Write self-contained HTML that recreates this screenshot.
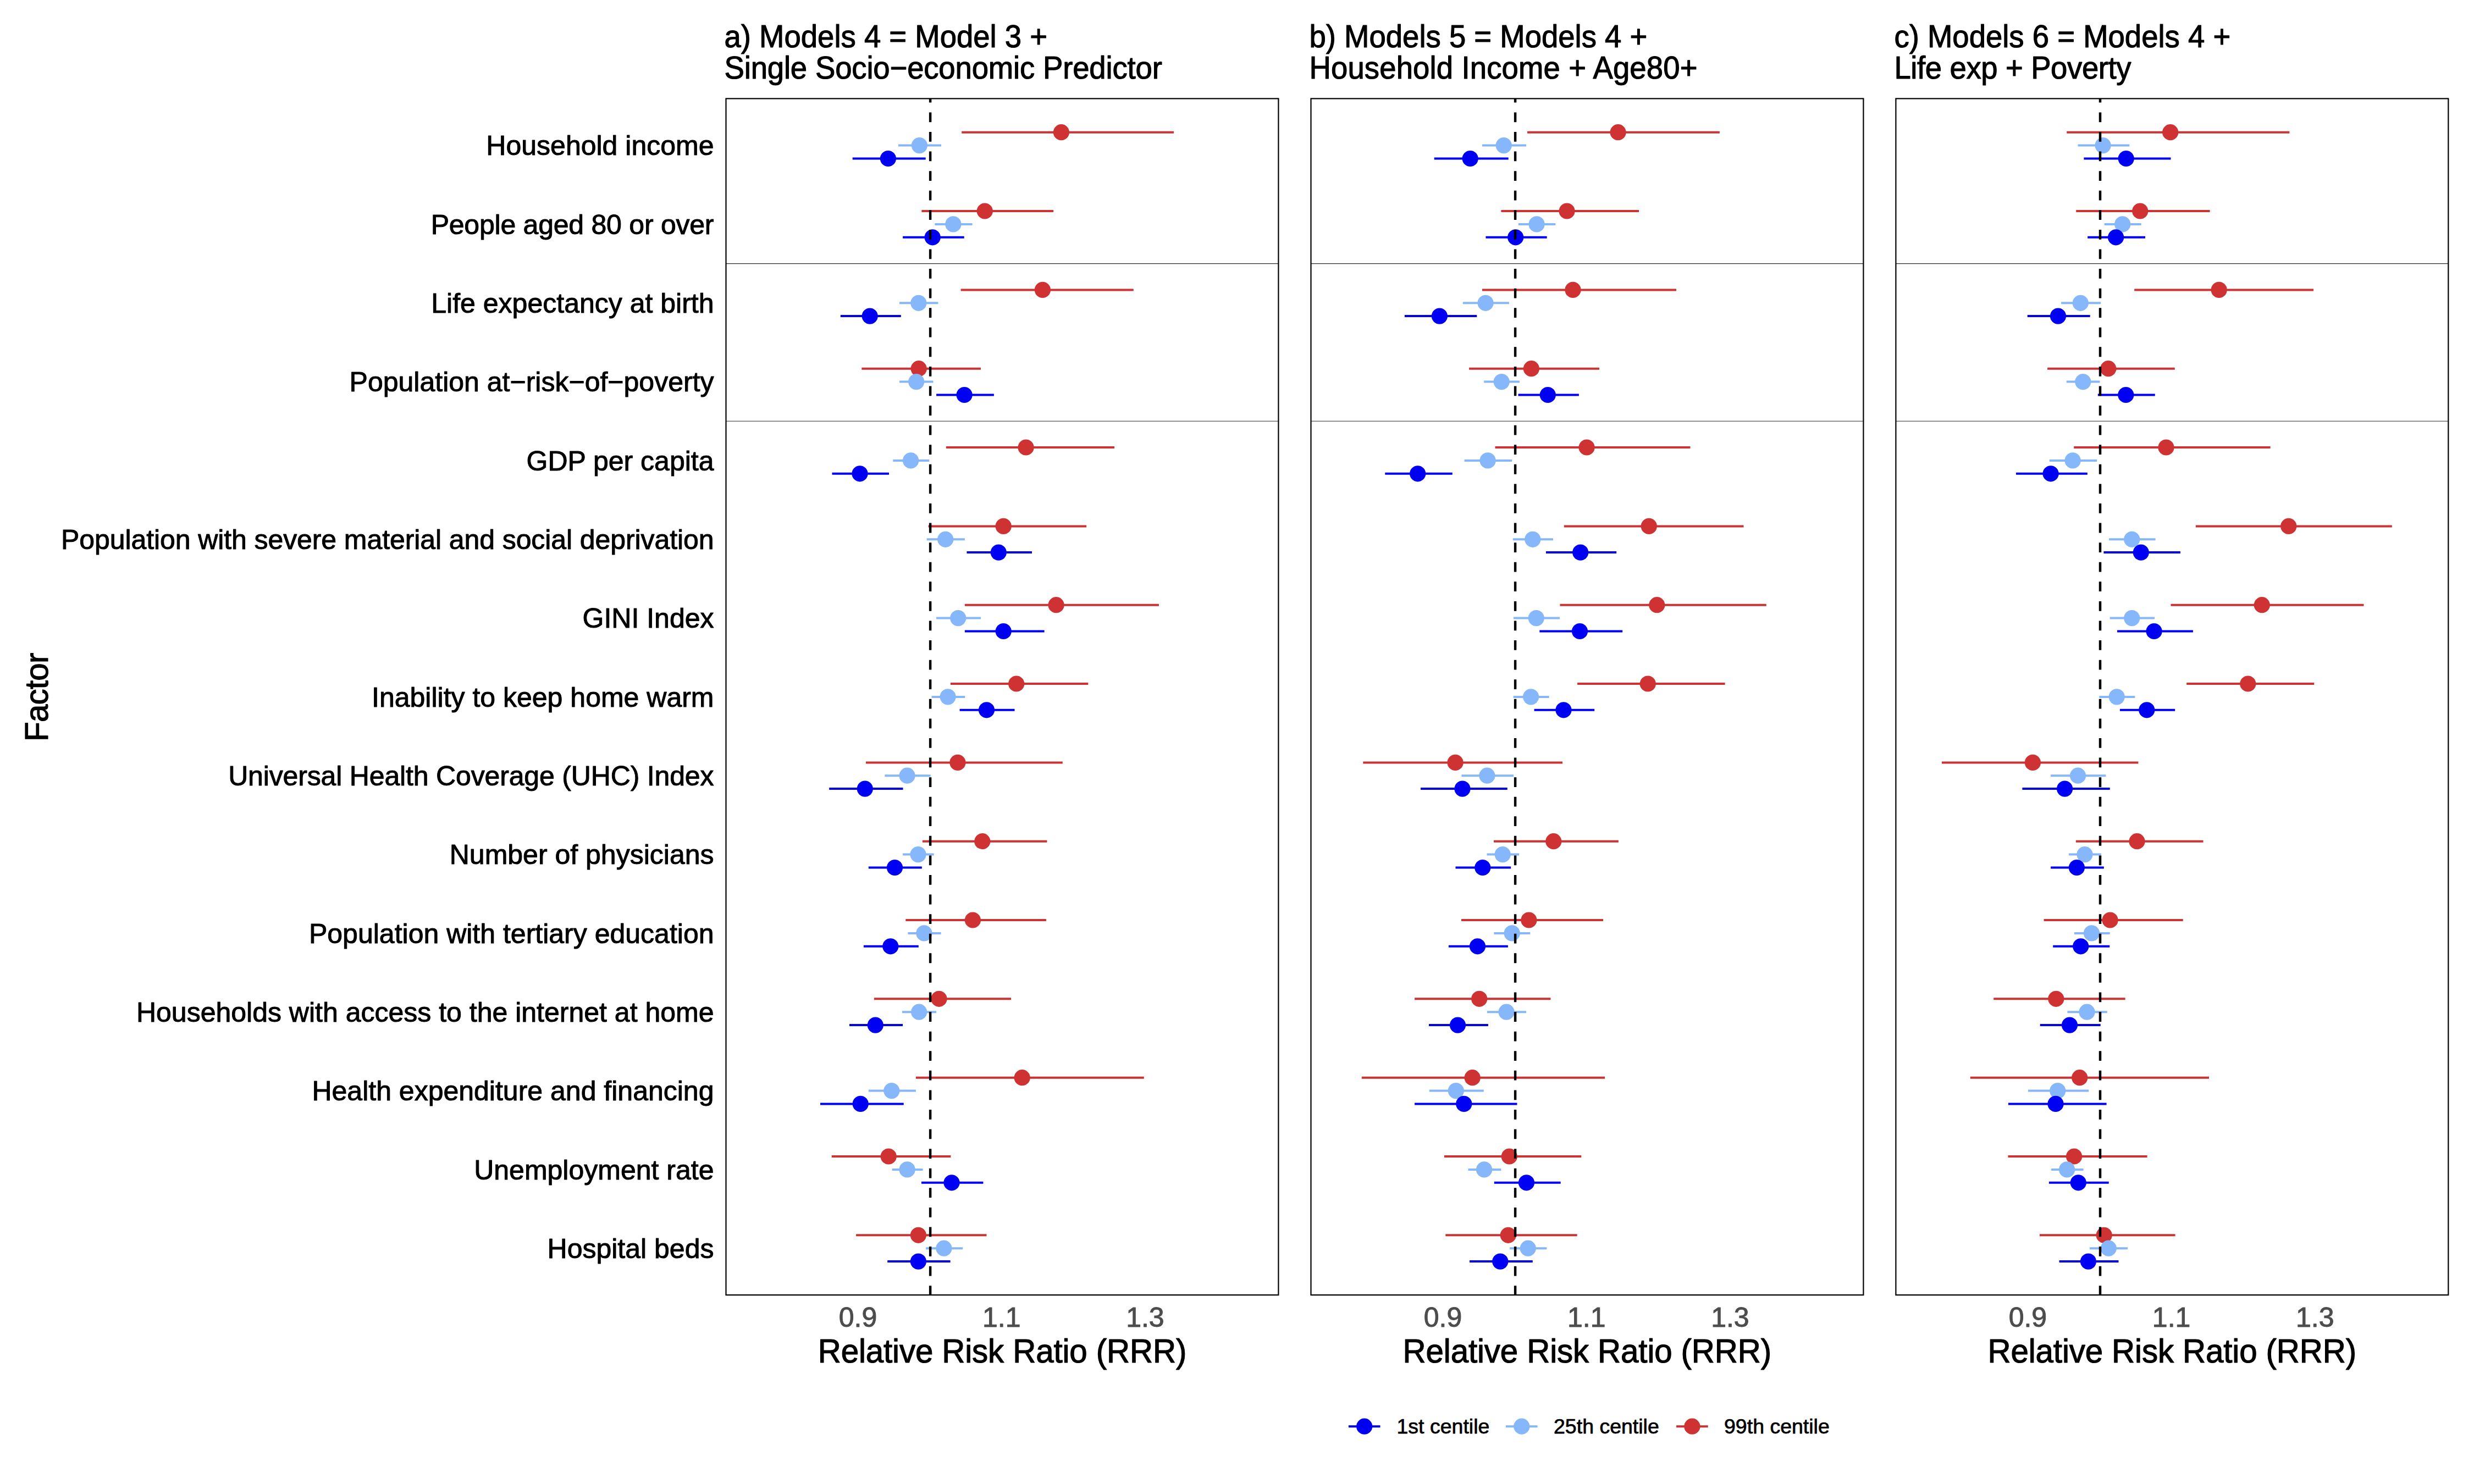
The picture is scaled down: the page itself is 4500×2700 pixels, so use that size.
<!DOCTYPE html>
<html lang="en"><head><meta charset="utf-8"><title>Relative Risk Ratio by factor</title>
<style>html,body{margin:0;padding:0;background:#fff}svg{display:block}text{font-family:"Liberation Sans",sans-serif;stroke-linejoin:round}</style></head><body>
<svg width="4500" height="2700" viewBox="0 0 4500 2700">
<rect width="4500" height="2700" fill="#fff"/>
<text id="factor" transform="translate(87.0,1268.3) rotate(-90) scale(1,1.03)" text-anchor="middle" font-size="58.33" fill="#000" stroke="#000" stroke-width="1.17" textLength="161.31" lengthAdjust="spacing">Factor</text>
<g font-size="50" text-anchor="end" fill="#000" stroke="#000" stroke-width="1.00">
<text id="yl0" transform="translate(1298.5,282.4) scale(1,1.01)">Household income</text>
<text id="yl1" transform="translate(1298.5,425.7) scale(1,1.01)" textLength="514.83" lengthAdjust="spacing">People aged 80 or over</text>
<text id="yl2" transform="translate(1298.5,569.1) scale(1,1.01)">Life expectancy at birth</text>
<text id="yl3" transform="translate(1298.5,712.4) scale(1,1.01)">Population at−risk−of−poverty</text>
<text id="yl4" transform="translate(1298.5,855.7) scale(1,1.01)">GDP per capita</text>
<text id="yl5" transform="translate(1298.5,999.1) scale(1,1.01)" textLength="1187.54" lengthAdjust="spacing">Population with severe material and social deprivation</text>
<text id="yl6" transform="translate(1298.5,1142.4) scale(1,1.01)">GINI Index</text>
<text id="yl7" transform="translate(1298.5,1285.7) scale(1,1.01)">Inability to keep home warm</text>
<text id="yl8" transform="translate(1298.5,1429.0) scale(1,1.01)" textLength="883.33" lengthAdjust="spacing">Universal Health Coverage (UHC) Index</text>
<text id="yl9" transform="translate(1298.5,1572.4) scale(1,1.01)">Number of physicians</text>
<text id="yl10" transform="translate(1298.5,1715.7) scale(1,1.01)">Population with tertiary education</text>
<text id="yl11" transform="translate(1298.5,1859.0) scale(1,1.01)">Households with access to the internet at home</text>
<text id="yl12" transform="translate(1298.5,2002.4) scale(1,1.01)">Health expenditure and financing</text>
<text id="yl13" transform="translate(1298.5,2145.7) scale(1,1.01)">Unemployment rate</text>
<text id="yl14" transform="translate(1298.5,2289.0) scale(1,1.01)">Hospital beds</text>
</g>
<g>
<g font-size="54.5" fill="#000" stroke="#000" stroke-width="1.09">
<text id="t0a" transform="translate(1317.5,85.5) scale(1,1.04)">a) Models 4 = Model 3 +</text>
<text id="t0b" transform="translate(1317.5,143.0) scale(1,1.04)" textLength="796.28" lengthAdjust="spacing">Single Socio−economic Predictor</text>
</g>
<line x1="1320.5" x2="2325.4" y1="479.60" y2="479.60" stroke="#2b2b2b" stroke-width="1.1"/>
<line x1="1320.5" x2="2325.4" y1="766.26" y2="766.26" stroke="#2b2b2b" stroke-width="1.1"/>
<line x1="1749.2" x2="2135.0" y1="240.7" y2="240.7" stroke="#CE3232" stroke-width="4.0"/>
<line x1="1634.0" x2="1712.0" y1="264.6" y2="264.6" stroke="#85B7FA" stroke-width="4.0"/>
<line x1="1550.7" x2="1683.7" y1="288.5" y2="288.5" stroke="#0000F3" stroke-width="4.0"/>
<line x1="1676.4" x2="1916.2" y1="384.0" y2="384.0" stroke="#CE3232" stroke-width="4.0"/>
<line x1="1700.3" x2="1768.6" y1="407.9" y2="407.9" stroke="#85B7FA" stroke-width="4.0"/>
<line x1="1642.1" x2="1753.7" y1="431.8" y2="431.8" stroke="#0000F3" stroke-width="4.0"/>
<line x1="1747.6" x2="2061.8" y1="527.4" y2="527.4" stroke="#CE3232" stroke-width="4.0"/>
<line x1="1636.0" x2="1706.4" y1="551.3" y2="551.3" stroke="#85B7FA" stroke-width="4.0"/>
<line x1="1528.8" x2="1638.8" y1="575.1" y2="575.1" stroke="#0000F3" stroke-width="4.0"/>
<line x1="1567.3" x2="1784.0" y1="670.7" y2="670.7" stroke="#CE3232" stroke-width="4.0"/>
<line x1="1636.0" x2="1697.5" y1="694.6" y2="694.6" stroke="#85B7FA" stroke-width="4.0"/>
<line x1="1703.1" x2="1807.9" y1="718.5" y2="718.5" stroke="#0000F3" stroke-width="4.0"/>
<line x1="1720.9" x2="2027.0" y1="814.0" y2="814.0" stroke="#CE3232" stroke-width="4.0"/>
<line x1="1624.3" x2="1690.2" y1="837.9" y2="837.9" stroke="#85B7FA" stroke-width="4.0"/>
<line x1="1513.5" x2="1617.0" y1="861.8" y2="861.8" stroke="#0000F3" stroke-width="4.0"/>
<line x1="1688.6" x2="1976.1" y1="957.4" y2="957.4" stroke="#CE3232" stroke-width="4.0"/>
<line x1="1685.7" x2="1754.9" y1="981.3" y2="981.3" stroke="#85B7FA" stroke-width="4.0"/>
<line x1="1758.5" x2="1877.0" y1="1005.1" y2="1005.1" stroke="#0000F3" stroke-width="4.0"/>
<line x1="1754.9" x2="2107.9" y1="1100.7" y2="1100.7" stroke="#CE3232" stroke-width="4.0"/>
<line x1="1703.1" x2="1784.0" y1="1124.6" y2="1124.6" stroke="#85B7FA" stroke-width="4.0"/>
<line x1="1754.9" x2="1899.6" y1="1148.5" y2="1148.5" stroke="#0000F3" stroke-width="4.0"/>
<line x1="1729.0" x2="1979.3" y1="1244.0" y2="1244.0" stroke="#CE3232" stroke-width="4.0"/>
<line x1="1694.6" x2="1755.3" y1="1267.9" y2="1267.9" stroke="#85B7FA" stroke-width="4.0"/>
<line x1="1745.6" x2="1845.5" y1="1291.8" y2="1291.8" stroke="#0000F3" stroke-width="4.0"/>
<line x1="1574.9" x2="1932.8" y1="1387.4" y2="1387.4" stroke="#CE3232" stroke-width="4.0"/>
<line x1="1609.3" x2="1692.6" y1="1411.2" y2="1411.2" stroke="#85B7FA" stroke-width="4.0"/>
<line x1="1508.2" x2="1642.5" y1="1435.1" y2="1435.1" stroke="#0000F3" stroke-width="4.0"/>
<line x1="1678.0" x2="1904.5" y1="1530.7" y2="1530.7" stroke="#CE3232" stroke-width="4.0"/>
<line x1="1642.1" x2="1698.7" y1="1554.6" y2="1554.6" stroke="#85B7FA" stroke-width="4.0"/>
<line x1="1579.8" x2="1676.8" y1="1578.5" y2="1578.5" stroke="#0000F3" stroke-width="4.0"/>
<line x1="1647.3" x2="1902.9" y1="1674.0" y2="1674.0" stroke="#CE3232" stroke-width="4.0"/>
<line x1="1651.4" x2="1711.6" y1="1697.9" y2="1697.9" stroke="#85B7FA" stroke-width="4.0"/>
<line x1="1570.9" x2="1670.8" y1="1721.8" y2="1721.8" stroke="#0000F3" stroke-width="4.0"/>
<line x1="1589.9" x2="1839.0" y1="1817.3" y2="1817.3" stroke="#CE3232" stroke-width="4.0"/>
<line x1="1640.9" x2="1703.1" y1="1841.2" y2="1841.2" stroke="#85B7FA" stroke-width="4.0"/>
<line x1="1545.0" x2="1642.1" y1="1865.1" y2="1865.1" stroke="#0000F3" stroke-width="4.0"/>
<line x1="1665.9" x2="2080.8" y1="1960.7" y2="1960.7" stroke="#CE3232" stroke-width="4.0"/>
<line x1="1579.8" x2="1665.9" y1="1984.6" y2="1984.6" stroke="#85B7FA" stroke-width="4.0"/>
<line x1="1492.0" x2="1643.7" y1="2008.4" y2="2008.4" stroke="#0000F3" stroke-width="4.0"/>
<line x1="1512.7" x2="1729.4" y1="2104.0" y2="2104.0" stroke="#CE3232" stroke-width="4.0"/>
<line x1="1622.7" x2="1678.5" y1="2127.9" y2="2127.9" stroke="#85B7FA" stroke-width="4.0"/>
<line x1="1676.0" x2="1788.4" y1="2151.8" y2="2151.8" stroke="#0000F3" stroke-width="4.0"/>
<line x1="1557.1" x2="1794.5" y1="2247.3" y2="2247.3" stroke="#CE3232" stroke-width="4.0"/>
<line x1="1684.1" x2="1751.2" y1="2271.2" y2="2271.2" stroke="#85B7FA" stroke-width="4.0"/>
<line x1="1614.2" x2="1728.6" y1="2295.1" y2="2295.1" stroke="#0000F3" stroke-width="4.0"/>
<circle cx="1930.4" cy="240.7" r="14.6" fill="#CE3232"/>
<circle cx="1672.4" cy="264.6" r="14.6" fill="#85B7FA"/>
<circle cx="1615.4" cy="288.5" r="14.6" fill="#0000F3"/>
<circle cx="1791.3" cy="384.0" r="14.6" fill="#CE3232"/>
<circle cx="1733.9" cy="407.9" r="14.6" fill="#85B7FA"/>
<circle cx="1696.2" cy="431.8" r="14.6" fill="#0000F3"/>
<circle cx="1896.4" cy="527.4" r="14.6" fill="#CE3232"/>
<circle cx="1670.8" cy="551.3" r="14.6" fill="#85B7FA"/>
<circle cx="1582.2" cy="575.1" r="14.6" fill="#0000F3"/>
<circle cx="1671.2" cy="670.7" r="14.6" fill="#CE3232"/>
<circle cx="1666.7" cy="694.6" r="14.6" fill="#85B7FA"/>
<circle cx="1754.1" cy="718.5" r="14.6" fill="#0000F3"/>
<circle cx="1866.1" cy="814.0" r="14.6" fill="#CE3232"/>
<circle cx="1656.6" cy="837.9" r="14.6" fill="#85B7FA"/>
<circle cx="1564.0" cy="861.8" r="14.6" fill="#0000F3"/>
<circle cx="1825.2" cy="957.4" r="14.6" fill="#CE3232"/>
<circle cx="1719.7" cy="981.3" r="14.6" fill="#85B7FA"/>
<circle cx="1816.3" cy="1005.1" r="14.6" fill="#0000F3"/>
<circle cx="1921.1" cy="1100.7" r="14.6" fill="#CE3232"/>
<circle cx="1742.7" cy="1124.6" r="14.6" fill="#85B7FA"/>
<circle cx="1825.2" cy="1148.5" r="14.6" fill="#0000F3"/>
<circle cx="1848.7" cy="1244.0" r="14.6" fill="#CE3232"/>
<circle cx="1724.1" cy="1267.9" r="14.6" fill="#85B7FA"/>
<circle cx="1794.5" cy="1291.8" r="14.6" fill="#0000F3"/>
<circle cx="1741.9" cy="1387.4" r="14.6" fill="#CE3232"/>
<circle cx="1650.1" cy="1411.2" r="14.6" fill="#85B7FA"/>
<circle cx="1573.3" cy="1435.1" r="14.6" fill="#0000F3"/>
<circle cx="1786.8" cy="1530.7" r="14.6" fill="#CE3232"/>
<circle cx="1670.0" cy="1554.6" r="14.6" fill="#85B7FA"/>
<circle cx="1627.5" cy="1578.5" r="14.6" fill="#0000F3"/>
<circle cx="1769.4" cy="1674.0" r="14.6" fill="#CE3232"/>
<circle cx="1680.9" cy="1697.9" r="14.6" fill="#85B7FA"/>
<circle cx="1619.8" cy="1721.8" r="14.6" fill="#0000F3"/>
<circle cx="1708.0" cy="1817.3" r="14.6" fill="#CE3232"/>
<circle cx="1671.6" cy="1841.2" r="14.6" fill="#85B7FA"/>
<circle cx="1592.3" cy="1865.1" r="14.6" fill="#0000F3"/>
<circle cx="1859.2" cy="1960.7" r="14.6" fill="#CE3232"/>
<circle cx="1621.8" cy="1984.6" r="14.6" fill="#85B7FA"/>
<circle cx="1565.2" cy="2008.4" r="14.6" fill="#0000F3"/>
<circle cx="1616.2" cy="2104.0" r="14.6" fill="#CE3232"/>
<circle cx="1650.1" cy="2127.9" r="14.6" fill="#85B7FA"/>
<circle cx="1731.0" cy="2151.8" r="14.6" fill="#0000F3"/>
<circle cx="1670.4" cy="2247.3" r="14.6" fill="#CE3232"/>
<circle cx="1716.9" cy="2271.2" r="14.6" fill="#85B7FA"/>
<circle cx="1670.4" cy="2295.1" r="14.6" fill="#0000F3"/>
<line x1="1692.1" x2="1692.1" y1="2357.0" y2="179.4" stroke="#000" stroke-width="4.45" stroke-dasharray="17.79 17.79"/>
<rect x="1320.5" y="179.4" width="1004.9" height="2176.7" fill="none" stroke="#000" stroke-width="2.2"/>
<g font-size="50" text-anchor="middle" fill="#4D4D4D" stroke="#4D4D4D" stroke-width="1.00">
<text transform="translate(1560.5,2413.6) scale(1,1.0)">0.9</text>
<text transform="translate(1821.7,2413.6) scale(1,1.0)">1.1</text>
<text transform="translate(2082.9,2413.6) scale(1,1.0)">1.3</text>
</g>
<text id="xt0" transform="translate(1823.0,2478.8) scale(1,1.045)" font-size="58.33" text-anchor="middle" fill="#000" stroke="#000" stroke-width="1.17" textLength="670.64" lengthAdjust="spacing">Relative Risk Ratio (RRR)</text>
</g>
<g>
<g font-size="54.5" fill="#000" stroke="#000" stroke-width="1.09">
<text id="t1a" transform="translate(2381.5,85.5) scale(1,1.04)">b) Models 5 = Models 4 +</text>
<text id="t1b" transform="translate(2381.5,143.0) scale(1,1.04)" textLength="705.97" lengthAdjust="spacing">Household Income + Age80+</text>
</g>
<line x1="2384.5" x2="3389.4" y1="479.60" y2="479.60" stroke="#2b2b2b" stroke-width="1.1"/>
<line x1="2384.5" x2="3389.4" y1="766.26" y2="766.26" stroke="#2b2b2b" stroke-width="1.1"/>
<line x1="2778.1" x2="3127.9" y1="240.7" y2="240.7" stroke="#CE3232" stroke-width="4.0"/>
<line x1="2696.0" x2="2776.1" y1="264.6" y2="264.6" stroke="#85B7FA" stroke-width="4.0"/>
<line x1="2608.7" x2="2743.7" y1="288.5" y2="288.5" stroke="#0000F3" stroke-width="4.0"/>
<line x1="2730.4" x2="2981.1" y1="384.0" y2="384.0" stroke="#CE3232" stroke-width="4.0"/>
<line x1="2761.9" x2="2829.4" y1="407.9" y2="407.9" stroke="#85B7FA" stroke-width="4.0"/>
<line x1="2702.5" x2="2813.7" y1="431.8" y2="431.8" stroke="#0000F3" stroke-width="4.0"/>
<line x1="2696.0" x2="3049.0" y1="527.4" y2="527.4" stroke="#CE3232" stroke-width="4.0"/>
<line x1="2660.8" x2="2744.9" y1="551.3" y2="551.3" stroke="#85B7FA" stroke-width="4.0"/>
<line x1="2554.9" x2="2686.3" y1="575.1" y2="575.1" stroke="#0000F3" stroke-width="4.0"/>
<line x1="2672.1" x2="2909.1" y1="670.7" y2="670.7" stroke="#CE3232" stroke-width="4.0"/>
<line x1="2699.2" x2="2763.9" y1="694.6" y2="694.6" stroke="#85B7FA" stroke-width="4.0"/>
<line x1="2761.5" x2="2871.9" y1="718.5" y2="718.5" stroke="#0000F3" stroke-width="4.0"/>
<line x1="2719.5" x2="3074.5" y1="814.0" y2="814.0" stroke="#CE3232" stroke-width="4.0"/>
<line x1="2663.6" x2="2750.2" y1="837.9" y2="837.9" stroke="#85B7FA" stroke-width="4.0"/>
<line x1="2519.3" x2="2641.8" y1="861.8" y2="861.8" stroke="#0000F3" stroke-width="4.0"/>
<line x1="2844.8" x2="3171.5" y1="957.4" y2="957.4" stroke="#CE3232" stroke-width="4.0"/>
<line x1="2751.8" x2="2825.0" y1="981.3" y2="981.3" stroke="#85B7FA" stroke-width="4.0"/>
<line x1="2812.0" x2="2940.2" y1="1005.1" y2="1005.1" stroke="#0000F3" stroke-width="4.0"/>
<line x1="2837.5" x2="3212.8" y1="1100.7" y2="1100.7" stroke="#CE3232" stroke-width="4.0"/>
<line x1="2753.0" x2="2837.1" y1="1124.6" y2="1124.6" stroke="#85B7FA" stroke-width="4.0"/>
<line x1="2800.3" x2="2951.2" y1="1148.5" y2="1148.5" stroke="#0000F3" stroke-width="4.0"/>
<line x1="2869.1" x2="3137.6" y1="1244.0" y2="1244.0" stroke="#CE3232" stroke-width="4.0"/>
<line x1="2752.6" x2="2817.7" y1="1267.9" y2="1267.9" stroke="#85B7FA" stroke-width="4.0"/>
<line x1="2790.6" x2="2900.2" y1="1291.8" y2="1291.8" stroke="#0000F3" stroke-width="4.0"/>
<line x1="2479.3" x2="2842.0" y1="1387.4" y2="1387.4" stroke="#CE3232" stroke-width="4.0"/>
<line x1="2658.4" x2="2753.0" y1="1411.2" y2="1411.2" stroke="#85B7FA" stroke-width="4.0"/>
<line x1="2584.0" x2="2741.7" y1="1435.1" y2="1435.1" stroke="#0000F3" stroke-width="4.0"/>
<line x1="2717.0" x2="2943.9" y1="1530.7" y2="1530.7" stroke="#CE3232" stroke-width="4.0"/>
<line x1="2704.5" x2="2763.1" y1="1554.6" y2="1554.6" stroke="#85B7FA" stroke-width="4.0"/>
<line x1="2647.5" x2="2748.2" y1="1578.5" y2="1578.5" stroke="#0000F3" stroke-width="4.0"/>
<line x1="2658.0" x2="2916.0" y1="1674.0" y2="1674.0" stroke="#CE3232" stroke-width="4.0"/>
<line x1="2717.4" x2="2783.3" y1="1697.9" y2="1697.9" stroke="#85B7FA" stroke-width="4.0"/>
<line x1="2634.9" x2="2742.9" y1="1721.8" y2="1721.8" stroke="#0000F3" stroke-width="4.0"/>
<line x1="2573.1" x2="2820.5" y1="1817.3" y2="1817.3" stroke="#CE3232" stroke-width="4.0"/>
<line x1="2704.9" x2="2776.1" y1="1841.2" y2="1841.2" stroke="#85B7FA" stroke-width="4.0"/>
<line x1="2599.0" x2="2706.9" y1="1865.1" y2="1865.1" stroke="#0000F3" stroke-width="4.0"/>
<line x1="2476.8" x2="2919.2" y1="1960.7" y2="1960.7" stroke="#CE3232" stroke-width="4.0"/>
<line x1="2599.8" x2="2698.8" y1="1984.6" y2="1984.6" stroke="#85B7FA" stroke-width="4.0"/>
<line x1="2573.1" x2="2759.5" y1="2008.4" y2="2008.4" stroke="#0000F3" stroke-width="4.0"/>
<line x1="2626.9" x2="2876.3" y1="2104.0" y2="2104.0" stroke="#CE3232" stroke-width="4.0"/>
<line x1="2670.5" x2="2730.4" y1="2127.9" y2="2127.9" stroke="#85B7FA" stroke-width="4.0"/>
<line x1="2717.8" x2="2838.7" y1="2151.8" y2="2151.8" stroke="#0000F3" stroke-width="4.0"/>
<line x1="2629.3" x2="2868.7" y1="2247.3" y2="2247.3" stroke="#CE3232" stroke-width="4.0"/>
<line x1="2746.1" x2="2813.3" y1="2271.2" y2="2271.2" stroke="#85B7FA" stroke-width="4.0"/>
<line x1="2673.0" x2="2787.8" y1="2295.1" y2="2295.1" stroke="#0000F3" stroke-width="4.0"/>
<circle cx="2943.1" cy="240.7" r="14.6" fill="#CE3232"/>
<circle cx="2735.2" cy="264.6" r="14.6" fill="#85B7FA"/>
<circle cx="2674.2" cy="288.5" r="14.6" fill="#0000F3"/>
<circle cx="2850.1" cy="384.0" r="14.6" fill="#CE3232"/>
<circle cx="2795.1" cy="407.9" r="14.6" fill="#85B7FA"/>
<circle cx="2756.7" cy="431.8" r="14.6" fill="#0000F3"/>
<circle cx="2861.0" cy="527.4" r="14.6" fill="#CE3232"/>
<circle cx="2702.1" cy="551.3" r="14.6" fill="#85B7FA"/>
<circle cx="2618.4" cy="575.1" r="14.6" fill="#0000F3"/>
<circle cx="2785.4" cy="670.7" r="14.6" fill="#CE3232"/>
<circle cx="2731.2" cy="694.6" r="14.6" fill="#85B7FA"/>
<circle cx="2815.3" cy="718.5" r="14.6" fill="#0000F3"/>
<circle cx="2886.1" cy="814.0" r="14.6" fill="#CE3232"/>
<circle cx="2706.1" cy="837.9" r="14.6" fill="#85B7FA"/>
<circle cx="2578.7" cy="861.8" r="14.6" fill="#0000F3"/>
<circle cx="2999.3" cy="957.4" r="14.6" fill="#CE3232"/>
<circle cx="2787.8" cy="981.3" r="14.6" fill="#85B7FA"/>
<circle cx="2874.7" cy="1005.1" r="14.6" fill="#0000F3"/>
<circle cx="3013.8" cy="1100.7" r="14.6" fill="#CE3232"/>
<circle cx="2794.3" cy="1124.6" r="14.6" fill="#85B7FA"/>
<circle cx="2873.5" cy="1148.5" r="14.6" fill="#0000F3"/>
<circle cx="2997.3" cy="1244.0" r="14.6" fill="#CE3232"/>
<circle cx="2784.6" cy="1267.9" r="14.6" fill="#85B7FA"/>
<circle cx="2844.0" cy="1291.8" r="14.6" fill="#0000F3"/>
<circle cx="2647.1" cy="1387.4" r="14.6" fill="#CE3232"/>
<circle cx="2704.9" cy="1411.2" r="14.6" fill="#85B7FA"/>
<circle cx="2660.0" cy="1435.1" r="14.6" fill="#0000F3"/>
<circle cx="2825.8" cy="1530.7" r="14.6" fill="#CE3232"/>
<circle cx="2733.2" cy="1554.6" r="14.6" fill="#85B7FA"/>
<circle cx="2696.8" cy="1578.5" r="14.6" fill="#0000F3"/>
<circle cx="2780.9" cy="1674.0" r="14.6" fill="#CE3232"/>
<circle cx="2750.2" cy="1697.9" r="14.6" fill="#85B7FA"/>
<circle cx="2687.5" cy="1721.8" r="14.6" fill="#0000F3"/>
<circle cx="2690.7" cy="1817.3" r="14.6" fill="#CE3232"/>
<circle cx="2740.1" cy="1841.2" r="14.6" fill="#85B7FA"/>
<circle cx="2651.5" cy="1865.1" r="14.6" fill="#0000F3"/>
<circle cx="2678.2" cy="1960.7" r="14.6" fill="#CE3232"/>
<circle cx="2648.3" cy="1984.6" r="14.6" fill="#85B7FA"/>
<circle cx="2662.8" cy="2008.4" r="14.6" fill="#0000F3"/>
<circle cx="2745.3" cy="2104.0" r="14.6" fill="#CE3232"/>
<circle cx="2699.6" cy="2127.9" r="14.6" fill="#85B7FA"/>
<circle cx="2776.5" cy="2151.8" r="14.6" fill="#0000F3"/>
<circle cx="2743.3" cy="2247.3" r="14.6" fill="#CE3232"/>
<circle cx="2779.3" cy="2271.2" r="14.6" fill="#85B7FA"/>
<circle cx="2728.8" cy="2295.1" r="14.6" fill="#0000F3"/>
<line x1="2756.1" x2="2756.1" y1="2357.0" y2="179.4" stroke="#000" stroke-width="4.45" stroke-dasharray="17.79 17.79"/>
<rect x="2384.5" y="179.4" width="1004.9" height="2176.7" fill="none" stroke="#000" stroke-width="2.2"/>
<g font-size="50" text-anchor="middle" fill="#4D4D4D" stroke="#4D4D4D" stroke-width="1.00">
<text transform="translate(2624.5,2413.6) scale(1,1.0)">0.9</text>
<text transform="translate(2885.7,2413.6) scale(1,1.0)">1.1</text>
<text transform="translate(3146.9,2413.6) scale(1,1.0)">1.3</text>
</g>
<text id="xt1" transform="translate(2886.9,2478.8) scale(1,1.045)" font-size="58.33" text-anchor="middle" fill="#000" stroke="#000" stroke-width="1.17" textLength="670.64" lengthAdjust="spacing">Relative Risk Ratio (RRR)</text>
</g>
<g>
<g font-size="54.5" fill="#000" stroke="#000" stroke-width="1.09">
<text id="t2a" transform="translate(3445.4,85.5) scale(1,1.04)">c) Models 6 = Models 4 +</text>
<text id="t2b" transform="translate(3445.4,143.0) scale(1,1.04)" textLength="431.17" lengthAdjust="spacing">Life exp + Poverty</text>
</g>
<line x1="3448.4" x2="4453.3" y1="479.60" y2="479.60" stroke="#2b2b2b" stroke-width="1.1"/>
<line x1="3448.4" x2="4453.3" y1="766.26" y2="766.26" stroke="#2b2b2b" stroke-width="1.1"/>
<line x1="3759.2" x2="4164.4" y1="240.7" y2="240.7" stroke="#CE3232" stroke-width="4.0"/>
<line x1="3779.5" x2="3873.3" y1="264.6" y2="264.6" stroke="#85B7FA" stroke-width="4.0"/>
<line x1="3790.4" x2="3948.5" y1="288.5" y2="288.5" stroke="#0000F3" stroke-width="4.0"/>
<line x1="3776.2" x2="4019.6" y1="384.0" y2="384.0" stroke="#CE3232" stroke-width="4.0"/>
<line x1="3827.6" x2="3894.7" y1="407.9" y2="407.9" stroke="#85B7FA" stroke-width="4.0"/>
<line x1="3797.2" x2="3902.0" y1="431.8" y2="431.8" stroke="#0000F3" stroke-width="4.0"/>
<line x1="3882.2" x2="4208.1" y1="527.4" y2="527.4" stroke="#CE3232" stroke-width="4.0"/>
<line x1="3749.1" x2="3821.1" y1="551.3" y2="551.3" stroke="#85B7FA" stroke-width="4.0"/>
<line x1="3687.7" x2="3801.7" y1="575.1" y2="575.1" stroke="#0000F3" stroke-width="4.0"/>
<line x1="3724.1" x2="3955.8" y1="670.7" y2="670.7" stroke="#CE3232" stroke-width="4.0"/>
<line x1="3758.8" x2="3819.5" y1="694.6" y2="694.6" stroke="#85B7FA" stroke-width="4.0"/>
<line x1="3815.8" x2="3919.8" y1="718.5" y2="718.5" stroke="#0000F3" stroke-width="4.0"/>
<line x1="3772.2" x2="4129.6" y1="814.0" y2="814.0" stroke="#CE3232" stroke-width="4.0"/>
<line x1="3727.7" x2="3814.2" y1="837.9" y2="837.9" stroke="#85B7FA" stroke-width="4.0"/>
<line x1="3667.0" x2="3796.8" y1="861.8" y2="861.8" stroke="#0000F3" stroke-width="4.0"/>
<line x1="3993.8" x2="4350.8" y1="957.4" y2="957.4" stroke="#CE3232" stroke-width="4.0"/>
<line x1="3836.1" x2="3920.6" y1="981.3" y2="981.3" stroke="#85B7FA" stroke-width="4.0"/>
<line x1="3826.4" x2="3965.9" y1="1005.1" y2="1005.1" stroke="#0000F3" stroke-width="4.0"/>
<line x1="3948.5" x2="4299.5" y1="1100.7" y2="1100.7" stroke="#CE3232" stroke-width="4.0"/>
<line x1="3837.7" x2="3919.0" y1="1124.6" y2="1124.6" stroke="#85B7FA" stroke-width="4.0"/>
<line x1="3851.0" x2="3988.9" y1="1148.5" y2="1148.5" stroke="#0000F3" stroke-width="4.0"/>
<line x1="3977.2" x2="4209.3" y1="1244.0" y2="1244.0" stroke="#CE3232" stroke-width="4.0"/>
<line x1="3818.3" x2="3883.4" y1="1267.9" y2="1267.9" stroke="#85B7FA" stroke-width="4.0"/>
<line x1="3855.9" x2="3956.2" y1="1291.8" y2="1291.8" stroke="#0000F3" stroke-width="4.0"/>
<line x1="3532.0" x2="3889.4" y1="1387.4" y2="1387.4" stroke="#CE3232" stroke-width="4.0"/>
<line x1="3730.1" x2="3830.4" y1="1411.2" y2="1411.2" stroke="#85B7FA" stroke-width="4.0"/>
<line x1="3678.4" x2="3837.7" y1="1435.1" y2="1435.1" stroke="#0000F3" stroke-width="4.0"/>
<line x1="3775.8" x2="4007.5" y1="1530.7" y2="1530.7" stroke="#CE3232" stroke-width="4.0"/>
<line x1="3762.9" x2="3821.9" y1="1554.6" y2="1554.6" stroke="#85B7FA" stroke-width="4.0"/>
<line x1="3730.1" x2="3826.8" y1="1578.5" y2="1578.5" stroke="#0000F3" stroke-width="4.0"/>
<line x1="3717.6" x2="3970.7" y1="1674.0" y2="1674.0" stroke="#CE3232" stroke-width="4.0"/>
<line x1="3773.0" x2="3837.7" y1="1697.9" y2="1697.9" stroke="#85B7FA" stroke-width="4.0"/>
<line x1="3734.2" x2="3837.3" y1="1721.8" y2="1721.8" stroke="#0000F3" stroke-width="4.0"/>
<line x1="3626.2" x2="3865.6" y1="1817.3" y2="1817.3" stroke="#CE3232" stroke-width="4.0"/>
<line x1="3760.4" x2="3832.8" y1="1841.2" y2="1841.2" stroke="#85B7FA" stroke-width="4.0"/>
<line x1="3710.7" x2="3820.7" y1="1865.1" y2="1865.1" stroke="#0000F3" stroke-width="4.0"/>
<line x1="3583.7" x2="4018.0" y1="1960.7" y2="1960.7" stroke="#CE3232" stroke-width="4.0"/>
<line x1="3688.9" x2="3799.3" y1="1984.6" y2="1984.6" stroke="#85B7FA" stroke-width="4.0"/>
<line x1="3652.9" x2="3831.6" y1="2008.4" y2="2008.4" stroke="#0000F3" stroke-width="4.0"/>
<line x1="3652.5" x2="3905.6" y1="2104.0" y2="2104.0" stroke="#CE3232" stroke-width="4.0"/>
<line x1="3730.9" x2="3789.6" y1="2127.9" y2="2127.9" stroke="#85B7FA" stroke-width="4.0"/>
<line x1="3726.9" x2="3835.7" y1="2151.8" y2="2151.8" stroke="#0000F3" stroke-width="4.0"/>
<line x1="3709.9" x2="3956.6" y1="2247.3" y2="2247.3" stroke="#CE3232" stroke-width="4.0"/>
<line x1="3800.9" x2="3870.0" y1="2271.2" y2="2271.2" stroke="#85B7FA" stroke-width="4.0"/>
<line x1="3745.5" x2="3853.5" y1="2295.1" y2="2295.1" stroke="#0000F3" stroke-width="4.0"/>
<circle cx="3947.7" cy="240.7" r="14.6" fill="#CE3232"/>
<circle cx="3825.1" cy="264.6" r="14.6" fill="#85B7FA"/>
<circle cx="3867.2" cy="288.5" r="14.6" fill="#0000F3"/>
<circle cx="3892.7" cy="384.0" r="14.6" fill="#CE3232"/>
<circle cx="3860.7" cy="407.9" r="14.6" fill="#85B7FA"/>
<circle cx="3848.6" cy="431.8" r="14.6" fill="#0000F3"/>
<circle cx="4036.2" cy="527.4" r="14.6" fill="#CE3232"/>
<circle cx="3784.3" cy="551.3" r="14.6" fill="#85B7FA"/>
<circle cx="3743.5" cy="575.1" r="14.6" fill="#0000F3"/>
<circle cx="3834.8" cy="670.7" r="14.6" fill="#CE3232"/>
<circle cx="3788.8" cy="694.6" r="14.6" fill="#85B7FA"/>
<circle cx="3866.8" cy="718.5" r="14.6" fill="#0000F3"/>
<circle cx="3940.0" cy="814.0" r="14.6" fill="#CE3232"/>
<circle cx="3770.1" cy="837.9" r="14.6" fill="#85B7FA"/>
<circle cx="3730.1" cy="861.8" r="14.6" fill="#0000F3"/>
<circle cx="4162.8" cy="957.4" r="14.6" fill="#CE3232"/>
<circle cx="3877.7" cy="981.3" r="14.6" fill="#85B7FA"/>
<circle cx="3894.3" cy="1005.1" r="14.6" fill="#0000F3"/>
<circle cx="4114.3" cy="1100.7" r="14.6" fill="#CE3232"/>
<circle cx="3877.7" cy="1124.6" r="14.6" fill="#85B7FA"/>
<circle cx="3918.1" cy="1148.5" r="14.6" fill="#0000F3"/>
<circle cx="4088.8" cy="1244.0" r="14.6" fill="#CE3232"/>
<circle cx="3850.2" cy="1267.9" r="14.6" fill="#85B7FA"/>
<circle cx="3904.8" cy="1291.8" r="14.6" fill="#0000F3"/>
<circle cx="3697.4" cy="1387.4" r="14.6" fill="#CE3232"/>
<circle cx="3779.5" cy="1411.2" r="14.6" fill="#85B7FA"/>
<circle cx="3755.6" cy="1435.1" r="14.6" fill="#0000F3"/>
<circle cx="3887.0" cy="1530.7" r="14.6" fill="#CE3232"/>
<circle cx="3792.0" cy="1554.6" r="14.6" fill="#85B7FA"/>
<circle cx="3777.4" cy="1578.5" r="14.6" fill="#0000F3"/>
<circle cx="3838.1" cy="1674.0" r="14.6" fill="#CE3232"/>
<circle cx="3804.5" cy="1697.9" r="14.6" fill="#85B7FA"/>
<circle cx="3784.7" cy="1721.8" r="14.6" fill="#0000F3"/>
<circle cx="3739.8" cy="1817.3" r="14.6" fill="#CE3232"/>
<circle cx="3796.0" cy="1841.2" r="14.6" fill="#85B7FA"/>
<circle cx="3764.5" cy="1865.1" r="14.6" fill="#0000F3"/>
<circle cx="3782.7" cy="1960.7" r="14.6" fill="#CE3232"/>
<circle cx="3742.7" cy="1984.6" r="14.6" fill="#85B7FA"/>
<circle cx="3739.0" cy="2008.4" r="14.6" fill="#0000F3"/>
<circle cx="3772.6" cy="2104.0" r="14.6" fill="#CE3232"/>
<circle cx="3759.6" cy="2127.9" r="14.6" fill="#85B7FA"/>
<circle cx="3780.3" cy="2151.8" r="14.6" fill="#0000F3"/>
<circle cx="3827.2" cy="2247.3" r="14.6" fill="#CE3232"/>
<circle cx="3835.3" cy="2271.2" r="14.6" fill="#85B7FA"/>
<circle cx="3798.5" cy="2295.1" r="14.6" fill="#0000F3"/>
<line x1="3820.0" x2="3820.0" y1="2357.0" y2="179.4" stroke="#000" stroke-width="4.45" stroke-dasharray="17.79 17.79"/>
<rect x="3448.4" y="179.4" width="1004.9" height="2176.7" fill="none" stroke="#000" stroke-width="2.2"/>
<g font-size="50" text-anchor="middle" fill="#4D4D4D" stroke="#4D4D4D" stroke-width="1.00">
<text transform="translate(3688.4,2413.6) scale(1,1.0)">0.9</text>
<text transform="translate(3949.6,2413.6) scale(1,1.0)">1.1</text>
<text transform="translate(4210.8,2413.6) scale(1,1.0)">1.3</text>
</g>
<text id="xt2" transform="translate(3950.8,2478.8) scale(1,1.045)" font-size="58.33" text-anchor="middle" fill="#000" stroke="#000" stroke-width="1.17" textLength="670.64" lengthAdjust="spacing">Relative Risk Ratio (RRR)</text>
</g>
<g font-size="37.5" fill="#000" stroke="#000" stroke-width="0.75">
<line x1="2452.9" x2="2510.5" y1="2595.2" y2="2595.2" stroke="#0000F3" stroke-width="4.0"/>
<circle cx="2481.7" cy="2595.2" r="14.6" fill="#0000F3" stroke="none"/>
<text id="lg0" transform="translate(2540.5,2607.9) scale(1,1.0)">1st centile</text>
<line x1="2739.0" x2="2796.6" y1="2595.2" y2="2595.2" stroke="#85B7FA" stroke-width="4.0"/>
<circle cx="2767.8" cy="2595.2" r="14.6" fill="#85B7FA" stroke="none"/>
<text id="lg1" transform="translate(2826.0,2607.9) scale(1,1.0)">25th centile</text>
<line x1="3049.1" x2="3106.7" y1="2595.2" y2="2595.2" stroke="#CE3232" stroke-width="4.0"/>
<circle cx="3077.9" cy="2595.2" r="14.6" fill="#CE3232" stroke="none"/>
<text id="lg2" transform="translate(3136.0,2607.9) scale(1,1.0)">99th centile</text>
</g>
</svg></body></html>
